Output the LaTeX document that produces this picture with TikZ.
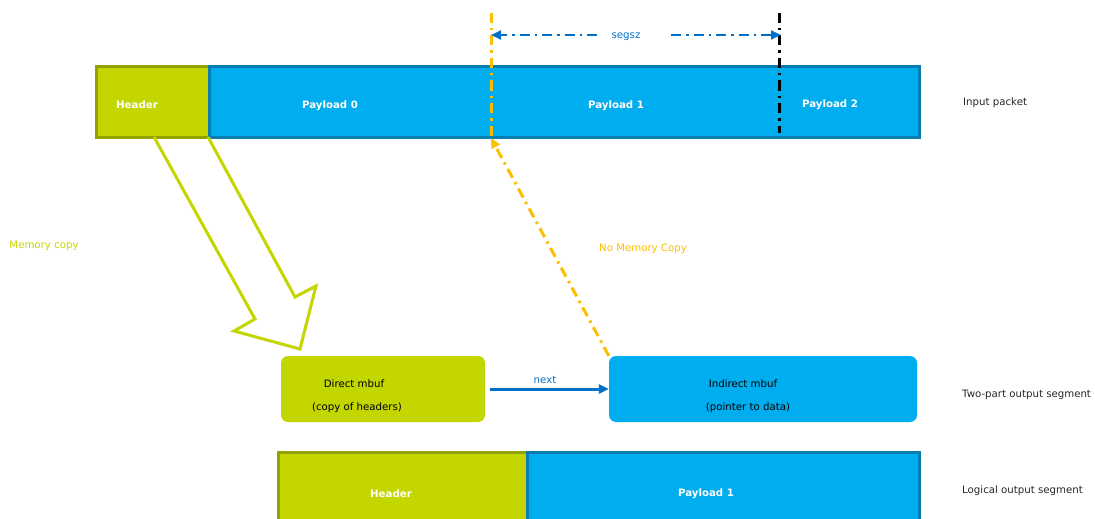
\documentclass[tikz,border=0pt]{standalone}
\usepackage{fontspec}
\setmainfont{DejaVu Sans}
\usetikzlibrary{arrows.meta}
\definecolor{lime}{HTML}{C4D600}
\definecolor{limedark}{HTML}{93A200}
\definecolor{sky}{HTML}{00ADEF}
\definecolor{skydark}{HTML}{0A7DB0}
\definecolor{amber}{HTML}{FDBE00}
\definecolor{navy}{HTML}{0070C8}
\tikzset{
  limebox/.style={draw=limedark, fill=lime, line width=3pt, inner sep=0pt},
  bluebox/.style={draw=skydark, fill=sky, line width=3pt, inner sep=0pt},
  limeround/.style={fill=lime, rounded corners=7pt, inner sep=0pt, minimum width=204pt, minimum height=66pt},
  blueround/.style={fill=sky, rounded corners=7pt, inner sep=0pt, minimum width=308pt, minimum height=66pt},
  wlabel/.style={text=white, font=\fontsize{10.2}{12}\selectfont\bfseries, inner sep=0pt},
  blabel/.style={text=black, font=\fontsize{10.2}{12}\selectfont, inner sep=0pt},
  side/.style={text=black!85, font=\fontsize{10.2}{12}\selectfont, anchor=west, inner sep=0pt},
  dashdot/.style={dash pattern=on 10pt off 5pt on 2.5pt off 5pt},
  ytip/.style={-{Triangle[length=10pt,width=9pt]}},
  btip/.style={-{Triangle[length=10pt,width=9pt]}},
}
\begin{document}
\begin{tikzpicture}[x=1pt,y=-1pt, font=\fontsize{10.2}{12}\selectfont]
\useasboundingbox (0,0) rectangle (1095,519);

% input packet
\node[limebox, minimum width=113pt, minimum height=70pt] (hdr) at (152.5,102) {};
\node[bluebox, minimum width=710pt, minimum height=70pt] (pay) at (564,102) {};
\node[wlabel] (th) at (137,105) {Header};
\node[wlabel] (tp0) at (330,106) {Payload 0};
\node[wlabel] (tp1) at (616,106) {Payload 1};
\node[wlabel] (tp2) at (830,105) {Payload 2};
\node[side] (lin) at (963,103) {Input packet};

% cut lines
\coordinate (ytop) at (491,13);
\coordinate (ybot) at (491,136);
\coordinate (ktop) at (779,13);
\coordinate (kbot) at (779,133);
\draw[amber, line width=3pt, dashdot] (ytop) -- (ybot);
\draw[black, line width=3pt, dashdot] (ktop) -- (kbot);

% segsz
\node[text=navy, inner sep=0pt] (segsz) at (626,37) {segsz};
\coordinate (gl) at (597,35);
\coordinate (gr) at (671,35);
\coordinate (sl) at (491,35);
\coordinate (sr) at (781,35);
\draw[navy, line width=2pt, dashdot, btip] (gl) -- (sl);
\draw[navy, line width=2pt, dashdot, btip] (gr) -- (sr);

% memory copy arrow
\draw[lime, line width=3pt, line join=miter]
  (154,137) -- (255,319) -- (234,331) -- (300,349) -- (316,286) -- (295,297) -- (208,137);
\node[text=lime, inner sep=0pt] (mc) at (44,246) {Memory copy};

% two-part output segment
\node[limeround] (dm) at (383,389) {};
\node[blabel] (dm1) at (354,384) {Direct mbuf};
\node[blabel] (dm2) at (357,408) {(copy of headers)};
\node[blueround] (im) at (763,389) {};
\node[blabel] (im1) at (743,384) {Indirect mbuf};
\node[blabel] (im2) at (748,408) {(pointer to data)};
\node[side] (ltwo) at (962,395) {Two-part output segment};

\draw[navy, line width=3pt, btip] (dm.east |- 0,389) ++(5,0) -- (im.west |- 0,389);
\node[text=navy, inner sep=0pt] (nx) at (545,380) {next};

% no memory copy
\draw[amber, line width=3pt, dashdot, ytip] (im.north west) -- (491,138);
\node[text=amber, inner sep=0pt] (nmc) at (643,249) {No Memory Copy};

% logical output segment
\node[limebox, minimum width=249pt, minimum height=90pt] (lh) at (402.5,497) {};
\node[bluebox, minimum width=392pt, minimum height=90pt] (lp) at (723,497) {};
\node[wlabel] (lht) at (391,494) {Header};
\node[wlabel] (lpt) at (706,494) {Payload 1};
\node[side] (llog) at (962,491) {Logical output segment};
\end{tikzpicture}
\end{document}
